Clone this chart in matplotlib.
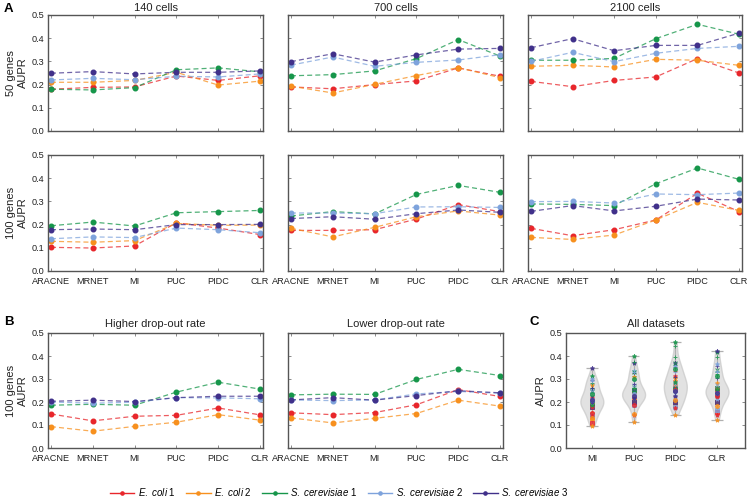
import numpy as np
import matplotlib
matplotlib.use("Agg")
import matplotlib.pyplot as plt
from matplotlib.lines import Line2D

plt.rcParams['font.family'] = ['Liberation Sans', 'DejaVu Sans']
plt.rcParams['mathtext.fontset'] = 'custom'
plt.rcParams['mathtext.it'] = 'Liberation Sans:italic'
plt.rcParams['mathtext.rm'] = 'Liberation Sans'

methods = ['ARACNE', 'MRNET', 'MI', 'PUC', 'PIDC', 'CLR']
species = [r'$\mathit{E.\ coli}$ 1', r'$\mathit{E.\ coli}$ 2',
           r'$\mathit{S.\ cerevisiae}$ 1', r'$\mathit{S.\ cerevisiae}$ 2',
           r'$\mathit{S.\ cerevisiae}$ 3']
colors = ['#e8262b', '#f7901e', '#16964a', '#7ea3dc', '#40308a']

# Each panel: rows in species order (E.coli1, E.coli2, S.cer1, S.cer2, S.cer3), columns in method order
A_50g_140c = [[0.180, 0.188, 0.190, 0.237, 0.218, 0.238],
              [0.210, 0.210, 0.218, 0.253, 0.198, 0.215],
              [0.180, 0.177, 0.187, 0.264, 0.272, 0.255],
              [0.220, 0.227, 0.221, 0.236, 0.233, 0.246],
              [0.249, 0.256, 0.246, 0.253, 0.253, 0.259]]
A_50g_700c = [[0.190, 0.182, 0.200, 0.216, 0.272, 0.236],
              [0.193, 0.164, 0.201, 0.239, 0.273, 0.230],
              [0.238, 0.243, 0.259, 0.312, 0.394, 0.323],
              [0.284, 0.319, 0.279, 0.296, 0.306, 0.329],
              [0.299, 0.333, 0.297, 0.328, 0.353, 0.356]]
A_50g_2100c = [[0.214, 0.191, 0.218, 0.233, 0.312, 0.250],
               [0.279, 0.283, 0.276, 0.309, 0.305, 0.283],
               [0.305, 0.305, 0.313, 0.398, 0.460, 0.417],
               [0.300, 0.339, 0.299, 0.335, 0.356, 0.365],
               [0.359, 0.398, 0.346, 0.369, 0.369, 0.422]]
A_100g_140c = [[0.102, 0.099, 0.108, 0.208, 0.185, 0.157],
               [0.128, 0.124, 0.131, 0.205, 0.197, 0.198],
               [0.195, 0.211, 0.194, 0.251, 0.256, 0.261],
               [0.139, 0.147, 0.144, 0.185, 0.178, 0.165],
               [0.178, 0.181, 0.178, 0.200, 0.200, 0.201]]
A_100g_700c = [[0.175, 0.175, 0.178, 0.224, 0.286, 0.256],
               [0.184, 0.147, 0.188, 0.234, 0.259, 0.241],
               [0.237, 0.256, 0.246, 0.330, 0.369, 0.339],
               [0.250, 0.250, 0.247, 0.276, 0.277, 0.274],
               [0.226, 0.234, 0.223, 0.247, 0.263, 0.253]]
A_100g_2100c = [[0.184, 0.152, 0.178, 0.220, 0.335, 0.256],
                [0.145, 0.136, 0.155, 0.220, 0.296, 0.261],
                [0.289, 0.287, 0.282, 0.376, 0.444, 0.395],
                [0.299, 0.300, 0.293, 0.332, 0.329, 0.336],
                [0.257, 0.282, 0.259, 0.279, 0.310, 0.306]]
B_high = [[0.148, 0.118, 0.138, 0.142, 0.174, 0.144],
          [0.093, 0.073, 0.094, 0.112, 0.145, 0.121],
          [0.186, 0.190, 0.186, 0.243, 0.286, 0.256],
          [0.200, 0.195, 0.199, 0.219, 0.218, 0.214],
          [0.203, 0.208, 0.202, 0.219, 0.225, 0.225]]
B_low = [[0.153, 0.145, 0.154, 0.188, 0.254, 0.224],
         [0.131, 0.109, 0.129, 0.150, 0.208, 0.182],
         [0.231, 0.234, 0.233, 0.298, 0.342, 0.315],
         [0.209, 0.206, 0.209, 0.235, 0.246, 0.238],
         [0.209, 0.219, 0.208, 0.228, 0.249, 0.240]]

c_methods = ['MI', 'PUC', 'PIDC', 'CLR']

W, H = 750, 501
fig = plt.figure(figsize=(W / 100, H / 100), dpi=100)

def px_axes(l, r, t, b):
    return fig.add_axes([l / W, 1 - b / H, (r - l) / W, (b - t) / H])

FRAME = '#555555'
TXT = '#222222'
TICK_FS = 6.6
LAB_FS = 8

def style(ax, ylabels=True):
    for s in ax.spines.values():
        s.set_color(FRAME)
        s.set_linewidth(1.0)
    ax.tick_params(direction='in', top=True, right=True, length=2.5, width=0.6,
                   color='#777777', labelsize=TICK_FS, pad=2.5, labelcolor=TXT)
    ax.tick_params(axis='x', pad=4.5)
    ax.set_ylim(0, 0.5)
    ax.set_yticks(np.arange(0, 0.51, 0.1))
    if ylabels:
        ax.set_yticklabels(['%.1f' % v for v in np.arange(0, 0.51, 0.1)])
    else:
        ax.set_yticklabels([])

def line_panel(ax, data, ylabels, xlabels):
    x = np.arange(len(methods))
    for vals, c in zip(data, colors):
        ax.plot(x, vals, ls=(0, (4, 2.5)), color=c, lw=0.9, alpha=0.75)
        ax.plot(x, vals, ls='none', marker='o', ms=3.3, color=c)
    ax.set_xlim(-0.07, 5.07)
    ax.set_xticks(x)
    if xlabels:
        ax.set_xticklabels(methods)
    else:
        ax.set_xticklabels([])
    style(ax, ylabels)

cols = [(48, 263), (288, 503), (528, 742)]
row1 = (15, 131)
row2 = (155, 271)
rowB = (333, 448)

panelsA1 = [A_50g_140c, A_50g_700c, A_50g_2100c]
panelsA2 = [A_100g_140c, A_100g_700c, A_100g_2100c]
titlesA = ['140 cells', '700 cells', '2100 cells']

for i, (l, r) in enumerate(cols):
    ax = px_axes(l, r, *row1)
    line_panel(ax, panelsA1[i], i == 0, False)
    ax.set_title(titlesA[i], fontsize=LAB_FS, pad=3, color=TXT)
    if i == 0:
        ax.set_ylabel('50 genes\nAUPR', fontsize=LAB_FS, labelpad=3, color=TXT)
    ax2 = px_axes(l, r, *row2)
    line_panel(ax2, panelsA2[i], i == 0, True)
    if i == 0:
        ax2.set_ylabel('100 genes\nAUPR', fontsize=LAB_FS, labelpad=3, color=TXT)

titlesB = ['Higher drop-out rate', 'Lower drop-out rate']
panelsB = [B_high, B_low]
for i in range(2):
    l, r = cols[i]
    ax = px_axes(l, r, *rowB)
    line_panel(ax, panelsB[i], i == 0, True)
    ax.set_title(titlesB[i], fontsize=LAB_FS, pad=4, color=TXT)
    if i == 0:
        ax.set_ylabel('100 genes\nAUPR', fontsize=LAB_FS, labelpad=3, color=TXT)

# Panel C
axc = px_axes(566, 745, *rowB)
all_panels = panelsA1 + panelsA2 + panelsB
markers = ['x', '+', '*', 's', 'x', '+', '*', 'o']
pos = np.arange(1, len(c_methods) + 1)
vdata = []
for m in c_methods:
    j = methods.index(m)
    vdata.append([p[s][j] for p in all_panels for s in range(5)])
vp = axc.violinplot(vdata, positions=pos, widths=0.55, showextrema=True)
for b in vp['bodies']:
    b.set_facecolor('#d6d6d6')
    b.set_edgecolor('#c8c8c8')
    b.set_alpha(0.7)
for k in ('cmins', 'cmaxes', 'cbars'):
    vp[k].set_color('#b0b0b0')
    vp[k].set_linewidth(0.9)
for xi, m in zip(pos, c_methods):
    j = methods.index(m)
    for pi, p in enumerate(all_panels):
        for s in range(5):
            axc.scatter([xi], [p[s][j]], marker=markers[pi], s=8, color=colors[s],
                        linewidths=0.7, alpha=0.8, zorder=3)
axc.set_xlim(0.38, 4.67)
axc.set_xticks(pos)
axc.set_xticklabels(c_methods)
style(axc, True)
axc.tick_params(top=False)
axc.set_ylabel('AUPR', fontsize=LAB_FS, labelpad=3, color=TXT)
axc.set_title('All datasets', fontsize=LAB_FS, pad=4, color=TXT)

# Panel letters
fig.text(4 / W, 1 - 9 / H, 'A', fontsize=9.5, fontweight='bold', va='center')
fig.text(4 / W, 1 - 322 / H, 'B', fontsize=9.5, fontweight='bold', va='center')
fig.text(529 / W, 1 - 322 / H, 'C', fontsize=9.5, fontweight='bold', va='center')

handles = [Line2D([0], [0], color=c, lw=1.0, marker='o', ms=2.3) for c in colors]
fig.legend(handles, species, loc='center', bbox_to_anchor=(339 / W, 1 - 492 / H),
           ncol=5, frameon=False, fontsize=7, handlelength=2.5, handletextpad=0.35,
           columnspacing=1.1, borderpad=0)

fig.savefig('out.png', dpi=100)
